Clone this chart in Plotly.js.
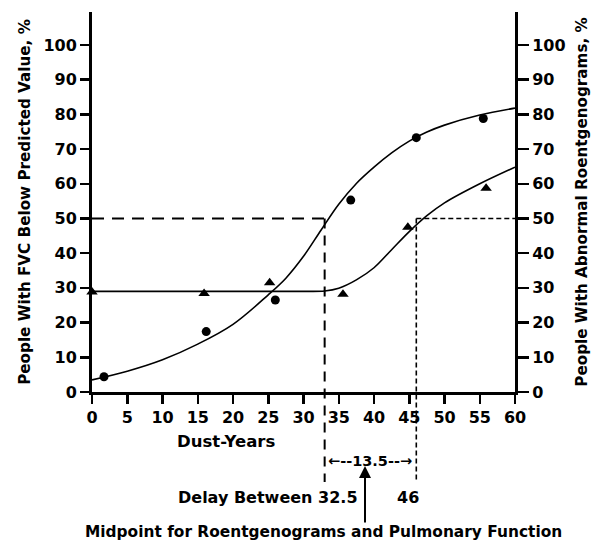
<!DOCTYPE html>
<html>
<head>
<meta charset="utf-8">
<script src="https://cdn.plot.ly/plotly-3.0.1.min.js"></script>
<style>html,body{margin:0;padding:0;background:#fff;}#chart{width:598px;height:545px;}</style>
</head>
<body>
<div id="chart"></div>
<script>
// ---- data ----
const fvcPointX = [1.7, 16.2, 26, 36.7, 46, 55.5];
const fvcPointY = [4.4, 17.4, 26.5, 55.3, 73.3, 78.8];
const roentPointX = [0, 15.9, 25.2, 35.6, 44.8, 55.9];
const roentPointY = [28.8, 28.4, 31.5, 28.2, 47.5, 58.7];

const fvcCurveX = [0, 5, 10, 15, 20, 25, 27.5, 30, 32.5, 35, 37.5, 40, 42.5, 45, 47.5, 50, 55, 60];
const fvcCurveY = [3.5, 6.0, 9.3, 13.8, 19.5, 28, 32.8, 39.1, 46.7, 54.1, 60.1, 64.8, 68.9, 72.3, 74.9, 76.9, 79.8, 81.8];
const roentCurveX = [0, 10, 20, 30, 33, 35, 37.5, 40, 42.5, 45, 47.5, 50, 55, 60];
const roentCurveY = [29, 29, 29, 29, 29.1, 29.9, 32.3, 35.8, 41, 46.2, 50.8, 54.5, 60, 64.8];

const midpointLevel = 50;
const midpointX = [33, 46];           // where the curves cross 50 %
const midpointLabels = ["32.5", "46"];
const delayLabel = "13.5";

const xTicks = [0, 5, 10, 15, 20, 25, 30, 35, 40, 45, 50, 55, 60];
const yTicks = [0, 10, 20, 30, 40, 50, 60, 70, 80, 90, 100];

// ---- layout helpers ----
const XR = [0, 60], YR = [0, 109.5];
const L = 92, R = 83, T = 12, B = 153, W = 598, H = 545;
const PW = W - L - R, PH = H - T - B;
const px = v => (v - XR[0]) / (XR[1] - XR[0]);
const py = v => (v - YR[0]) / (YR[1] - YR[0]);
const pixX = p => (p - L) / PW;            // page pixel -> paper
const pixY = p => (H - B - p) / PH;

const FONT = "DejaVu Sans";
const black = "#000";
const bold = (size) => ({family: FONT, size: size, color: black, weight: "bold"});

const traces = [
  {x: fvcCurveX, y: fvcCurveY, mode: "lines", line: {color: black, width: 1.6, shape: "spline", smoothing: 1}, hoverinfo: "skip", showlegend: false},
  {x: roentCurveX, y: roentCurveY, mode: "lines", line: {color: black, width: 1.6, shape: "spline", smoothing: 0.9}, hoverinfo: "skip", showlegend: false, yaxis: "y2"},
  {x: fvcPointX, y: fvcPointY, mode: "markers", marker: {symbol: "circle", size: 9, color: black}, cliponaxis: false, showlegend: false, name: "FVC below predicted"},
  {x: roentPointX, y: roentPointY, mode: "markers", marker: {symbol: "triangle-up", size: 10, color: black}, cliponaxis: false, showlegend: false, yaxis: "y2", name: "Abnormal roentgenograms"}
];

const lineBottom = pixY(482);
const shapes = [
  {type: "line", xref: "paper", yref: "paper", x0: px(0), x1: px(midpointX[0]), y0: py(midpointLevel), y1: py(midpointLevel),
   line: {color: black, width: 2.2, dash: "12px,8px"}},
  {type: "line", xref: "paper", yref: "paper", x0: px(midpointX[0]), x1: px(midpointX[0]), y0: py(midpointLevel), y1: lineBottom,
   line: {color: black, width: 2, dash: "10px,7px"}},
  {type: "line", xref: "paper", yref: "paper", x0: px(midpointX[1]), x1: px(60), y0: py(midpointLevel), y1: py(midpointLevel),
   line: {color: black, width: 1.6, dash: "5px,3px"}},
  {type: "line", xref: "paper", yref: "paper", x0: px(midpointX[1]), x1: px(midpointX[1]), y0: py(midpointLevel), y1: lineBottom,
   line: {color: black, width: 1.6, dash: "5px,3px"}}
];

const midCenter = (px(midpointX[0]) + px(midpointX[1])) / 2;
const annotations = [
  {text: "Dust-Years", xref: "paper", yref: "paper", x: pixX(226), y: pixY(441), xanchor: "center", yanchor: "middle", showarrow: false, font: bold(16.5)},
  {text: "←--" + delayLabel + "--→", xref: "paper", yref: "paper", x: midCenter, y: pixY(461), xanchor: "center", yanchor: "middle", showarrow: false, font: bold(14.5)},
  {text: "Delay Between " + midpointLabels[0], xref: "paper", yref: "paper", x: px(midpointX[0]) + 0.083, y: pixY(497), xanchor: "right", yanchor: "middle", showarrow: false, font: bold(16)},
  {text: midpointLabels[1], xref: "paper", yref: "paper", x: px(midpointX[1]) - 0.02, y: pixY(497), xanchor: "center", yanchor: "middle", showarrow: false, font: bold(16)},
  {text: "", xref: "paper", yref: "paper", x: pixX(365), y: pixY(466), ax: 0, ay: 58, showarrow: true, arrowhead: 2, arrowsize: 1.2, arrowwidth: 2, arrowcolor: black},
  {text: "Midpoint for Roentgenograms and Pulmonary Function", xref: "paper", yref: "paper", x: pixX(323), y: pixY(532), xanchor: "center", yanchor: "middle", showarrow: false, font: bold(15.4)}
];

const layout = {
  width: W, height: H,
  margin: {l: L, r: R, t: T, b: B, pad: 0},
  paper_bgcolor: "#fff", plot_bgcolor: "#fff",
  showlegend: false,
  font: {family: FONT, color: black},
  xaxis: {range: XR, tickvals: xTicks, ticktext: xTicks.map(String), showgrid: false, zeroline: false,
          showline: true, linewidth: 3, linecolor: black, ticks: "outside", ticklen: 9, tickwidth: 2.5, tickcolor: black,
          tickfont: bold(16), fixedrange: true},
  yaxis: {range: YR, tickvals: yTicks, ticktext: yTicks.map(String), showgrid: false, zeroline: false,
          showline: true, linewidth: 3, linecolor: black, ticks: "outside", ticklen: 9, tickwidth: 2.5, tickcolor: black,
          tickfont: bold(16),
          title: {text: "People With FVC Below Predicted Value, %", font: bold(15.2), standoff: 10}},
  yaxis2: {range: YR, overlaying: "y", side: "right", tickvals: yTicks, ticktext: yTicks.map(String), showgrid: false, zeroline: false,
          showline: true, linewidth: 3, linecolor: black, ticks: "outside", ticklen: 11, tickwidth: 2.5, tickcolor: black,
          tickfont: bold(16),
          title: {text: "People With Abnormal Roentgenograms, %", font: bold(15.2), standoff: 12}},
  shapes: shapes,
  annotations: annotations
};

Plotly.newPlot("chart", traces, layout, {displayModeBar: false, staticPlot: true});
</script>
</body>
</html>
